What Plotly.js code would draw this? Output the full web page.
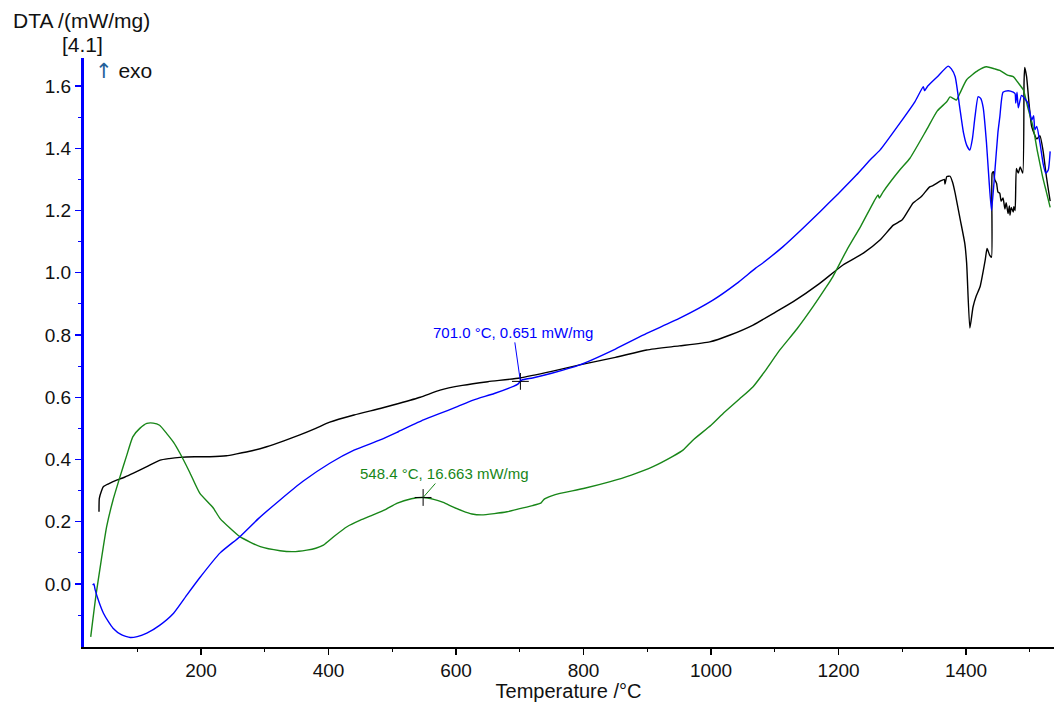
<!DOCTYPE html>
<html>
<head>
<meta charset="utf-8">
<script src="https://cdn.plot.ly/plotly-3.0.1.min.js"></script>
<style>html,body{margin:0;padding:0;background:#fff;}#chart{width:1054px;height:702px;}</style>
</head>
<body>
<div id="chart"></div>
<script>
// ---- Data (Temperature /°C, DTA /(mW/mg)) ----
const blackT = [40,40.5,44,47,55,62,80,94,115,136,150,167,190,214,240,256,280,303,330,355,380,402,440,481,510,544,575,610,650,700,750,794,850,899,950,998,1030,1066,1100,1129,1170,1207,1239,1265,1286,1300,1317,1330,1343,1348,1360,1366,1367,1370,1375,1379,1383,1391,1398,1401,1406,1411,1416,1422,1430,1433,1437,1440,1441,1443,1445,1448,1450,1453,1455,1458,1461,1463,1466,1468,1469,1471,1474,1475,1477,1479,1482,1485,1489,1491,1492,1495,1499,1503,1511,1516,1521,1526,1532];
const blackV = [0.232,0.275,0.300,0.313,0.322,0.329,0.343,0.356,0.377,0.398,0.403,0.407,0.409,0.409,0.412,0.418,0.428,0.441,0.460,0.479,0.500,0.520,0.543,0.564,0.580,0.600,0.623,0.638,0.650,0.662,0.683,0.704,0.728,0.752,0.765,0.778,0.800,0.832,0.872,0.907,0.965,1.025,1.063,1.105,1.153,1.170,1.224,1.245,1.276,1.280,1.295,1.300,1.285,1.309,1.310,1.290,1.255,1.170,1.095,1.030,0.822,0.890,0.925,0.955,1.040,1.078,1.057,1.050,1.320,1.325,1.300,1.287,1.260,1.255,1.230,1.240,1.205,1.225,1.190,1.215,1.185,1.210,1.195,1.212,1.200,1.335,1.320,1.340,1.320,1.610,1.660,1.630,1.540,1.470,1.430,1.440,1.390,1.310,1.230];

const blueT = [30,32,34,40,47,55,62,75,89,100,115,135,157,178,198,230,261,290,324,360,402,440,481,510,549,575,600,627,660,690,697,703,720,750,794,850,899,951,1003,1040,1070,1077,1113,1140,1171,1200,1228,1252,1265,1296,1320,1333,1335,1340,1355,1372,1377,1383,1390,1396,1401,1406,1410,1414,1419,1423,1427,1432,1436,1440,1445,1450,1453,1458,1466,1474,1477,1478,1480,1482,1487,1492,1497,1503,1506,1508,1511,1516,1521,1525,1529,1532];
const blueV = [-0.003,0.0,-0.019,-0.058,-0.094,-0.122,-0.142,-0.163,-0.172,-0.169,-0.158,-0.133,-0.094,-0.035,0.020,0.100,0.152,0.210,0.270,0.330,0.388,0.430,0.463,0.490,0.527,0.548,0.568,0.591,0.612,0.635,0.642,0.655,0.662,0.677,0.704,0.755,0.805,0.854,0.912,0.965,1.015,1.025,1.084,1.135,1.196,1.255,1.314,1.368,1.394,1.480,1.550,1.598,1.585,1.600,1.630,1.664,1.655,1.630,1.533,1.450,1.410,1.394,1.430,1.500,1.566,1.560,1.530,1.420,1.300,1.200,1.320,1.450,1.500,1.580,1.585,1.580,1.575,1.545,1.580,1.530,1.570,1.560,1.545,1.490,1.505,1.460,1.470,1.417,1.350,1.320,1.330,1.390];

const greenT = [27,30,35,42,52,62,73,83,93,104,115,125,135,146,157,167,182,198,219,230,261,293,324,344,366,380,392,410,429,450,470,490,507,530,548,565,580,595,610,625,640,660,680,700,720,733,738,750,763,800,842,875,909,940,956,972,1000,1019,1025,1045,1066,1085,1108,1135,1160,1180,1191,1213,1235,1254,1262,1264,1270,1296,1312,1338,1355,1370,1375,1380,1385,1390,1401,1419,1432,1445,1453,1465,1474,1482,1490,1497,1505,1512,1520,1526,1532];
const greenV = [-0.170,-0.120,-0.040,0.056,0.184,0.270,0.345,0.410,0.473,0.500,0.516,0.517,0.510,0.484,0.455,0.420,0.360,0.292,0.245,0.210,0.152,0.120,0.107,0.104,0.109,0.115,0.125,0.155,0.184,0.205,0.222,0.240,0.259,0.274,0.278,0.272,0.262,0.248,0.235,0.225,0.222,0.226,0.232,0.242,0.252,0.260,0.272,0.283,0.291,0.307,0.329,0.350,0.377,0.410,0.430,0.463,0.510,0.548,0.559,0.595,0.634,0.685,0.752,0.820,0.891,0.952,0.987,1.073,1.150,1.223,1.250,1.240,1.260,1.330,1.368,1.459,1.520,1.550,1.565,1.560,1.555,1.575,1.620,1.650,1.662,1.655,1.650,1.635,1.630,1.610,1.587,1.530,1.470,1.390,1.310,1.260,1.210];

// marked points and their labels
const markT = [701.0, 548.4];
const markV = [0.651, 0.278];
const markLabels = ['701.0 °C, 0.651 mW/mg', '548.4 °C, 16.663 mW/mg'];

const xTicks = [200, 400, 600, 800, 1000, 1200, 1400];
const yTicks = [0.0, 0.2, 0.4, 0.6, 0.8, 1.0, 1.2, 1.4, 1.6];

const BLUE = '#0000ff', GREEN = 'rgb(24,134,24)', BLACK = '#000000';
const FONT = 'Liberation Sans, Arial, Helvetica, sans-serif';

const traces = [
  {x: blackT, y: blackV, mode: 'lines', line: {color: BLACK, width: 1.4, shape: 'spline', smoothing: 0.5}, hoverinfo: 'skip'},
  {x: greenT, y: greenV, mode: 'lines', line: {color: GREEN, width: 1.4, shape: 'spline', smoothing: 0.5}, hoverinfo: 'skip'},
  {x: blueT, y: blueV, mode: 'lines', line: {color: BLUE, width: 1.4, shape: 'spline', smoothing: 0.5}, hoverinfo: 'skip'},
  {x: markT, y: markV, mode: 'markers', hoverinfo: 'skip',
   marker: {symbol: 'cross-thin', size: 12, line: {color: BLACK, width: 1}}}
];

const layout = {
  width: 1054, height: 702,
  margin: {l: 83, r: 0, t: 58, b: 55},
  paper_bgcolor: '#fff', plot_bgcolor: '#fff',
  showlegend: false,
  font: {family: FONT, size: 19, color: '#111'},
  xaxis: {
    range: [14.9, 1538], showgrid: false, zeroline: false,
    showline: true, linecolor: BLACK, linewidth: 1.5,
    ticks: 'outside', ticklen: 6, tickcolor: BLACK, tickwidth: 1.2,
    tickmode: 'array', tickvals: xTicks, ticktext: xTicks.map(String),
    minor: {ticks: 'outside', ticklen: 3, tickcolor: BLACK, tickmode: 'array', tickvals: [100,300,500,700,900,1100,1300,1500]},
    tickfont: {size: 19, color: '#111'},
    title: {text: 'Temperature /°C', font: {size: 20, color: '#111'}, standoff: 1}
  },
  yaxis: {
    range: [-0.2024, 1.690], showgrid: false, zeroline: false,
    showline: true, linecolor: BLUE, linewidth: 2,
    ticks: 'outside', ticklen: 6, tickcolor: BLUE, tickwidth: 1.2,
    tickmode: 'array', tickvals: yTicks, ticktext: yTicks.map(v => v.toFixed(1)),
    minor: {ticks: 'outside', ticklen: 3, tickcolor: BLUE, tickmode: 'array', tickvals: [-0.1,0.1,0.3,0.5,0.7,0.9,1.1,1.3,1.5]},
    tickfont: {size: 19, color: '#111'}
  },
  shapes: [
    {type: 'line', xref: 'paper', yref: 'paper', x0: 0, x1: 0, y0: 0, y1: 1,
     line: {color: BLUE, width: 2}, layer: 'above'}
  ],
  annotations: [
    {xref: 'paper', yref: 'paper', x: (11-83)/971, y: (702-20-55)/589, xanchor: 'left', yanchor: 'middle',
     text: 'DTA /(mW/mg)', showarrow: false, font: {size: 21, color: '#111'}},
    {xref: 'paper', yref: 'paper', x: (82-83)/971, y: (702-45-55)/589, xanchor: 'center', yanchor: 'middle',
     text: '[4.1]', showarrow: false, font: {size: 21, color: '#111'}},
    {xref: 'paper', yref: 'paper', x: (93-83)/971, y: (702-71-55)/589, xanchor: 'left', yanchor: 'middle',
     text: '<span style="color:#24609a;font-family:DejaVu Sans;font-size:21px">↑</span> exo', showarrow: false, font: {size: 21, color: '#111'}},
    {x: markT[0], y: markV[0], text: markLabels[0], showarrow: true, arrowhead: 0, arrowwidth: 1,
     arrowcolor: BLUE, ax: -7, ay: -49, font: {size: 15, color: BLUE}},
    {x: markT[1], y: markV[1], text: markLabels[1], showarrow: true, arrowhead: 0, arrowwidth: 1,
     arrowcolor: GREEN, ax: 21, ay: -24, font: {size: 15, color: GREEN}}
  ]
};

Plotly.newPlot('chart', traces, layout, {displayModeBar: false, staticPlot: true});
</script>
</body>
</html>
